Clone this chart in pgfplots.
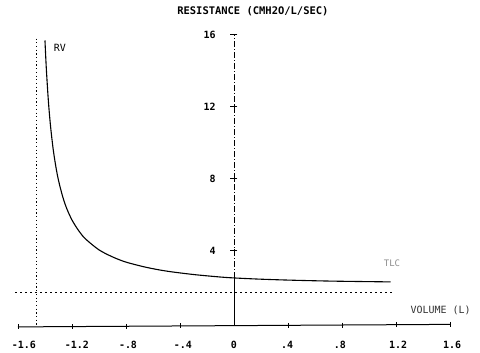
\documentclass[border=0pt]{standalone}
\usepackage{fontspec}
\setmainfont{Liberation Sans}
\newfontfamily\plotfont{DejaVu Sans Mono}
\usepackage{pgfplots}
\pgfplotsset{compat=1.18}
\begin{document}
\begin{tikzpicture}[x=1bp,y=1bp]
\begin{axis}[
  scale only axis, width=480bp, height=353bp,
  xmin=-1.733, xmax=1.822, ymin=-1.67, ymax=17.94,
  hide axis, clip=false,
]
% invisible frame to fix bounding box
\addplot[draw=none] coordinates {(-1.733,-1.67) (1.822,17.94)};
% x axis
\addplot[black, line width=1bp] coordinates {(-1.6,-0.22) (1.6,-0.08)};
\addplot[black, only marks, mark=|, mark size=2.5bp, mark options={line width=0.8bp}] coordinates {
(-1.6,-0.22) (-1.2,-0.20) (-0.8,-0.185) (-0.4,-0.165) (0.4,-0.13) (0.8,-0.115) (1.2,-0.10) (1.6,-0.08)};
% y axis
\addplot[black, line width=0.9bp] coordinates {(0,-0.15) (0,2.5)};
\addplot[black, line width=0.9bp, dash pattern=on 6bp off 2bp on 1bp off 2bp] coordinates {(0,2.5) (0,16)};
\addplot[black, only marks, mark=-, mark size=3.5bp, mark options={line width=0.9bp}] coordinates {(0,16) (0,12) (0,8) (0,4)};
\addplot[black, only marks, mark=|, mark size=2bp, mark options={line width=0.9bp}] coordinates {(0,12) (0,8) (0,4)};
% dotted reference lines
\addplot[black, line width=0.9bp, dash pattern=on 1.2bp off 2.5bp] coordinates {(-1.46,15.8) (-1.46,-0.2)};
\addplot[black, line width=0.9bp, dash pattern=on 2bp off 3bp] coordinates {(-1.62,1.72) (1.17,1.72)};
% resistance curve
\addplot[black, line width=1.1bp, smooth] coordinates {
(-1.400,15.69) (-1.390,14.14) (-1.375,12.36) (-1.360,11.03) (-1.340,9.70) (-1.320,8.71)
(-1.300,7.93) (-1.270,7.05) (-1.240,6.38) (-1.200,5.72) (-1.150,5.12) (-1.100,4.67)
(-1.000,4.06) (-0.900,3.67) (-0.800,3.38) (-0.650,3.09) (-0.500,2.88) (-0.300,2.69)
(-0.100,2.55) (0.000,2.50) (0.200,2.43) (0.450,2.37) (0.750,2.32) (1.160,2.28)};
% texts
\node[font=\plotfont\bfseries\fontsize{10.5}{12}\selectfont] at (axis cs:0.14,17.3) {RESISTANCE (CMH2O/L/SEC)};
\node[font=\plotfont\fontsize{10}{12}\selectfont] at (axis cs:-1.29,15.3) {RV};
\node[font=\plotfont\fontsize{9}{10}\selectfont, text=black!45] at (axis cs:1.17,3.3) {TLC};
\node[font=\plotfont\fontsize{10}{12}\selectfont, text=black!80] at (axis cs:1.53,0.72) {VOLUME (L)};
\node[font=\plotfont\bfseries\fontsize{10}{12}\selectfont, anchor=east] at (axis cs:-0.11,16) {16};
\node[font=\plotfont\bfseries\fontsize{10}{12}\selectfont, anchor=east] at (axis cs:-0.11,12) {12};
\node[font=\plotfont\bfseries\fontsize{10}{12}\selectfont, anchor=east] at (axis cs:-0.11,8) {8};
\node[font=\plotfont\bfseries\fontsize{10}{12}\selectfont, anchor=east] at (axis cs:-0.11,4) {4};
\node[font=\plotfont\bfseries\fontsize{10}{12}\selectfont] at (axis cs:-1.556,-1.2) {-1.6};
\node[font=\plotfont\bfseries\fontsize{10}{12}\selectfont] at (axis cs:-1.163,-1.2) {-1.2};
\node[font=\plotfont\bfseries\fontsize{10}{12}\selectfont] at (axis cs:-0.785,-1.2) {-.8};
\node[font=\plotfont\bfseries\fontsize{10}{12}\selectfont] at (axis cs:-0.378,-1.2) {-.4};
\node[font=\plotfont\bfseries\fontsize{10}{12}\selectfont] at (axis cs:0.0,-1.2) {0};
\node[font=\plotfont\bfseries\fontsize{10}{12}\selectfont] at (axis cs:0.393,-1.2) {.4};
\node[font=\plotfont\bfseries\fontsize{10}{12}\selectfont] at (axis cs:0.785,-1.2) {.8};
\node[font=\plotfont\bfseries\fontsize{10}{12}\selectfont] at (axis cs:1.215,-1.2) {1.2};
\node[font=\plotfont\bfseries\fontsize{10}{12}\selectfont] at (axis cs:1.615,-1.2) {1.6};
\end{axis}
\end{tikzpicture}
\end{document}
